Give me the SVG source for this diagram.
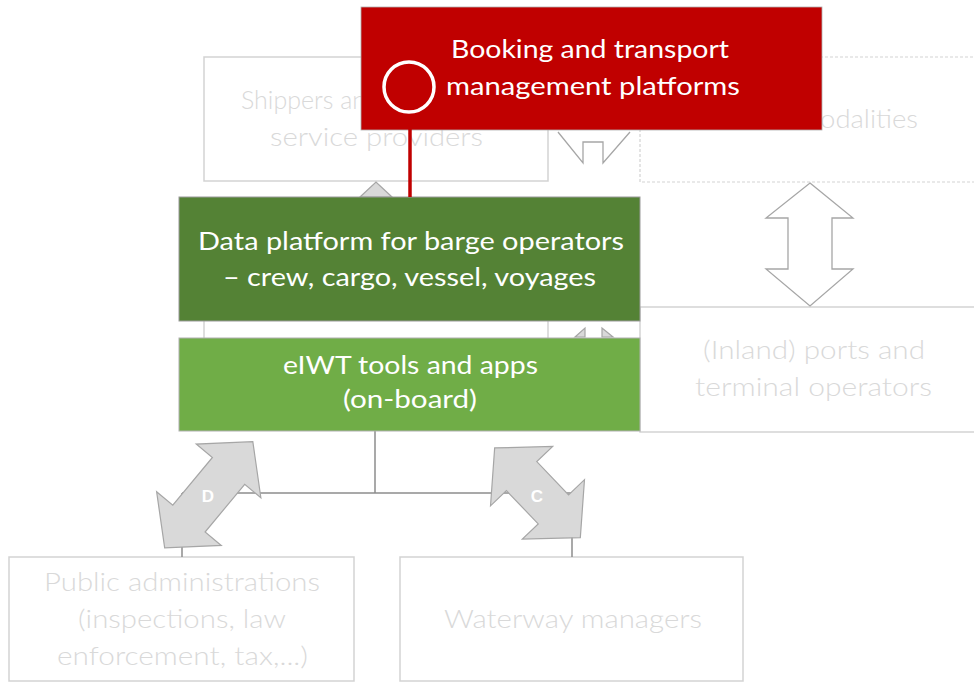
<svg xmlns="http://www.w3.org/2000/svg" width="974" height="684" viewBox="0 0 974 684">
<defs>
<style>
.bg{fill:#ffffff;stroke:#d3d3d3;stroke-width:1.5}
.dash{fill:#ffffff;stroke:#d3d3d3;stroke-width:1.2;stroke-dasharray:3 2}
.gt{font-family:Lato,"Open Sans","Liberation Sans",sans-serif;font-weight:300;font-size:25px;fill:#d9d9d9;text-anchor:middle}
.wt{font-family:Lato,"Open Sans","Liberation Sans",sans-serif;font-size:25.5px;fill:#ffffff;text-anchor:middle}
.lbl{font-family:"Liberation Sans",Arial,sans-serif;font-weight:bold;font-size:17px;fill:#ffffff;text-anchor:middle}
.arw{fill:#ffffff;stroke:#a6a6a6;stroke-width:1.3}
.garw{fill:#d9d9d9;stroke:#a6a6a6;stroke-width:1.2}
.con{fill:none;stroke:#8c8c8c;stroke-width:1.5}
</style>
</defs>
<rect width="974" height="684" fill="#ffffff"/>

<g id="shippers">
<rect class="bg" x="204" y="57" width="344" height="124"/>
<text class="gt" x="241" y="109" style="text-anchor:start">Shippers and</text>
<text class="gt" x="376.5" y="146" textLength="213" lengthAdjust="spacingAndGlyphs">service providers</text>
</g>

<g id="modalities">
<rect class="dash" x="640" y="57" width="345" height="125"/>
<text class="gt" x="918" y="128" style="text-anchor:end" textLength="120" lengthAdjust="spacingAndGlyphs">modalities</text>
</g>

<g id="ports">
<rect class="bg" x="640" y="307" width="345" height="125"/>
<text class="gt" x="814" y="359" textLength="222" lengthAdjust="spacingAndGlyphs">(Inland) ports and</text>
<text class="gt" x="813.5" y="396" textLength="237" lengthAdjust="spacingAndGlyphs">terminal operators</text>
</g>

<g id="hidden-box">
<rect class="bg" x="204" y="300" width="344" height="60"/>
</g>

<g id="public-admin">
<rect class="bg" x="9" y="557" width="345" height="124"/>
<text class="gt" x="182" y="591" textLength="276" lengthAdjust="spacingAndGlyphs">Public administrations</text>
<text class="gt" x="182" y="628" textLength="208" lengthAdjust="spacingAndGlyphs">(inspections, law</text>
<text class="gt" x="182.5" y="665" textLength="251" lengthAdjust="spacingAndGlyphs">enforcement, tax,...)</text>
</g>

<g id="waterway">
<rect class="bg" x="400" y="557" width="343" height="124"/>
<text class="gt" x="573" y="628" textLength="258" lengthAdjust="spacingAndGlyphs">Waterway managers</text>
</g>

<g id="connectors">
<polyline class="arw" points="558,132 583,163 583,142 603,142 603,163 630,132"/>
<polygon class="arw" points="810,183 853,218 832,218 832,269 853,269 810,306 766,269 788,269 788,218 766,218"/>
<polygon class="garw" points="360,197 376,182 392,197"/>
<polygon class="garw" points="575,337 585,328 585,337"/>
<polygon class="garw" points="602,328 602,337 613,337"/>
<line class="con" x1="375" y1="431" x2="375" y2="493"/>
<line class="con" x1="182" y1="493" x2="572" y2="493"/>
<line class="con" x1="182" y1="493" x2="182" y2="557"/>
<line class="con" x1="572" y1="493" x2="572" y2="557"/>
<g id="arrow-D">
<polygon class="garw" transform="translate(208.75,494.75) rotate(-50.3)" points="69,0 31,-42 31,-21 -31,-21 -31,-42 -69,0 -31,42 -31,21 31,21 31,42"/>
<text class="lbl" x="208" y="502">D</text>
</g>
<g id="arrow-C">
<polygon class="garw" transform="translate(537.5,492.75) rotate(46.3)" points="62,0 23,-43 23,-21 -23,-21 -23,-43 -62,0 -23,43 -23,21 23,21 23,43"/>
<text class="lbl" x="537" y="502">C</text>
</g>
</g>

<g id="data-platform">
<rect x="179" y="197" width="461" height="124" fill="#548235" stroke="#9a9a9a" stroke-width="1"/>
<text class="wt" x="411" y="250" textLength="426" lengthAdjust="spacingAndGlyphs">Data platform for barge operators</text>
<text class="wt" x="409.5" y="286" textLength="373" lengthAdjust="spacingAndGlyphs">– crew, cargo, vessel, voyages</text>
</g>

<g id="eiwt">
<rect x="179" y="338" width="461" height="93" fill="#70ad47" stroke="#b0b0b0" stroke-width="1"/>
<text class="wt" x="410.5" y="374" textLength="255" lengthAdjust="spacingAndGlyphs">eIWT tools and apps</text>
<text class="wt" x="410" y="408" textLength="134" lengthAdjust="spacingAndGlyphs">(on-board)</text>
</g>

<g id="booking">
<rect x="361" y="7" width="461" height="123" fill="#c00000" stroke="#b0b0b0" stroke-width="0.8"/>
<text class="wt" x="590" y="58" textLength="278" lengthAdjust="spacingAndGlyphs">Booking and transport</text>
<text class="wt" x="593" y="95" textLength="294" lengthAdjust="spacingAndGlyphs">management platforms</text>
</g>

<g id="booking-link">
<line x1="410" y1="113" x2="410" y2="197" stroke="#c00000" stroke-width="3.5"/>
<circle cx="409" cy="87" r="25" fill="none" stroke="#ffffff" stroke-width="3.5"/>
</g>
</svg>
